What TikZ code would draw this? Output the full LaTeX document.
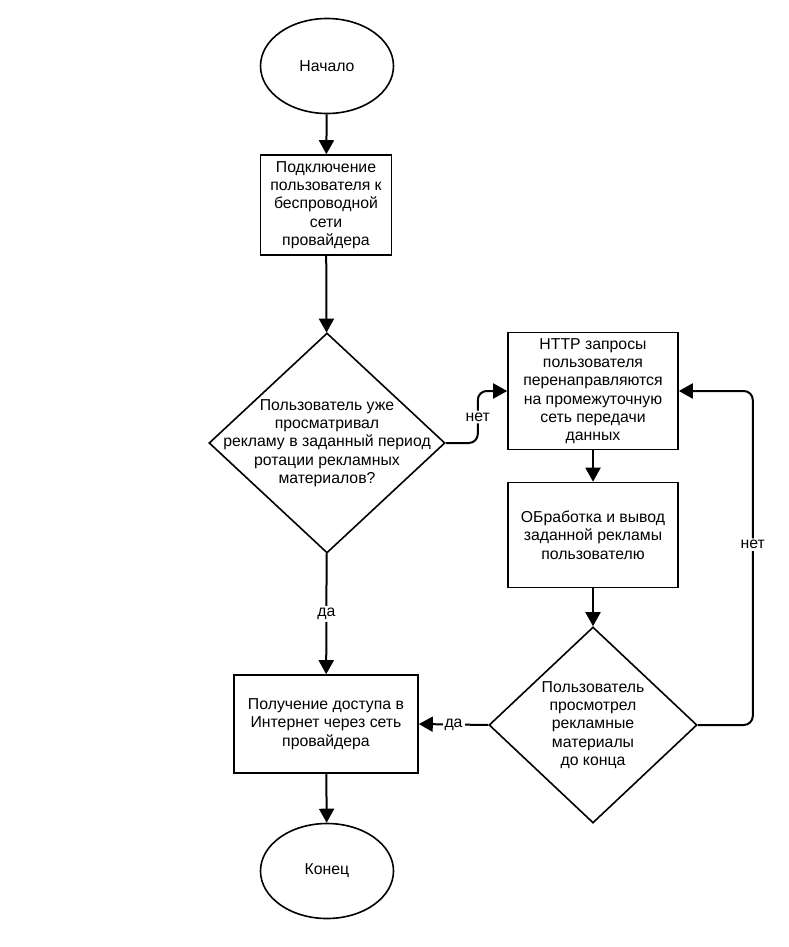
\documentclass[tikz,border=0pt]{standalone}
\usepackage{fontspec}
\setmainfont{Liberation Sans}
\usetikzlibrary{arrows.meta, shapes.geometric, positioning}

\begin{document}
\begin{tikzpicture}[
  x=1pt, y=-1pt,
  every node/.style={font=\fontsize{15.8}{18.3}\selectfont, align=center},
  terminal/.style={ellipse, draw, line width=1.6pt, minimum width=133pt, minimum height=95pt},
  process/.style={rectangle, draw, line width=1.6pt, inner sep=2pt},
  decision/.style={diamond, draw, line width=1.6pt, inner sep=0pt},
  flow/.style={line width=2pt, -{Triangle[length=14pt, width=15pt]}},
  lbl/.style={fill=white, inner sep=2pt}
]
\useasboundingbox (0,0) rectangle (788,947);

% main column
\node[terminal] (start) at (327,66) {Начало};
\node[process, minimum width=131pt, minimum height=100pt] (conn) at (326,205)
  {Подключение\\пользователя к\\беспроводной\\сети\\провайдера};
\node[decision, minimum width=236pt, minimum height=220pt] (seen) at (327,443) {};
\node (seentext) at (seen.center)
  {Пользователь уже\\просматривал\\рекламу в заданный период\\ротации рекламных\\материалов?};
\node[process, minimum width=184pt, minimum height=98pt] (access) at (326,724)
  {Получение доступа в\\Интернет через сеть\\провайдера};
\node[terminal] (finish) at (327,871) {Конец};

% right column
\node[process, minimum width=170pt, minimum height=117pt] (redirect) at (593,391)
  {HTTP запросы\\пользователя\\перенаправляются\\на промежуточную\\сеть передачи\\данных};
\node[process, minimum width=170pt, minimum height=105pt] (show) at (593,535)
  {ОБработка и вывод\\заданной рекламы\\пользователю};
\node[decision, minimum width=208pt, minimum height=196pt] (watched) at (593,725) {};
\node (watchedtext) at (watched.center)
  {Пользователь\\просмотрел\\рекламные\\материалы\\до конца};

\draw[flow] (start) -- (conn);
\draw[flow] (conn) -- (seen);
\draw[flow] (seen) -- node[lbl] {да} (access);
\draw[flow] (access) -- (finish);
\draw[flow, rounded corners=9pt] (seen.east) -- ++(32,0) |- node[lbl, pos=0.25] {нет} (redirect.west);
\draw[flow] (redirect) -- (show);
\draw[flow] (show) -- (watched);
\draw[flow] (watched.west) -- node[lbl] {да} (access.east);
\draw[flow, rounded corners=9pt] (watched.east) -- ++(55,0) |- node[lbl, pos=0.27] {нет} (redirect.east);
\end{tikzpicture}
\end{document}
